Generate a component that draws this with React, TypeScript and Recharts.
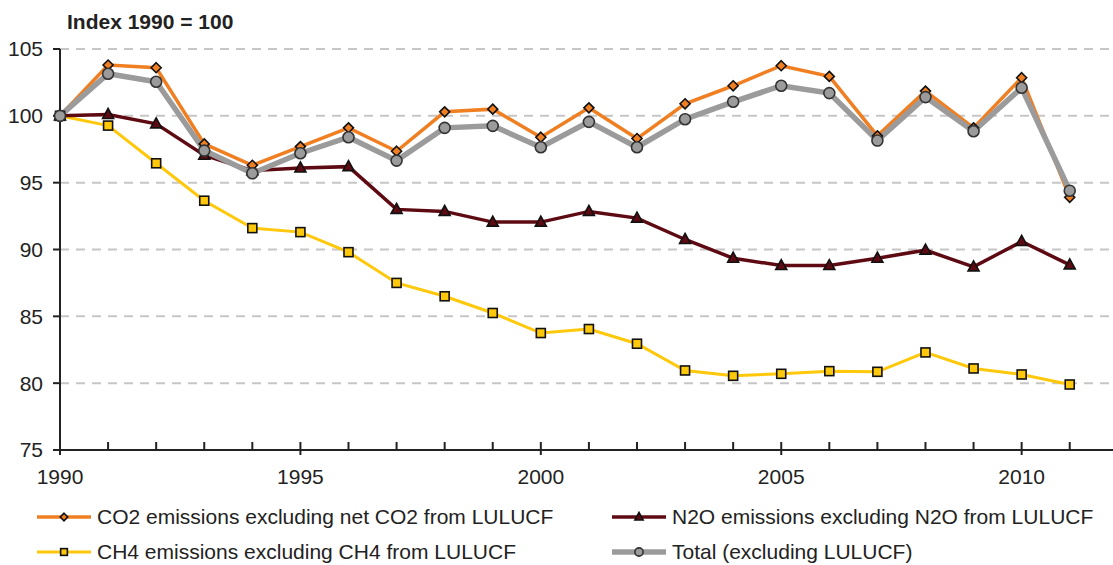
import React from 'react';
import { LineChart, Line, XAxis, YAxis, CartesianGrid } from 'recharts';

// Index 1990 = 100
const years = [1990, 1991, 1992, 1993, 1994, 1995, 1996, 1997, 1998, 1999, 2000, 2001, 2002, 2003, 2004, 2005, 2006, 2007, 2008, 2009, 2010, 2011];
const co2 = [100, 103.8, 103.6, 97.9, 96.3, 97.7, 99.1, 97.35, 100.3, 100.5, 98.4, 100.6, 98.3, 100.9, 102.25, 103.75, 102.95, 98.5, 101.85, 99.1, 102.85, 93.9];
const n2o = [100, 100.1, 99.4, 97.05, 95.9, 96.1, 96.2, 93.0, 92.85, 92.05, 92.05, 92.85, 92.35, 90.75, 89.35, 88.8, 88.8, 89.35, 89.95, 88.7, 90.6, 88.85];
const ch4 = [100, 99.27, 96.45, 93.65, 91.6, 91.3, 89.8, 87.5, 86.5, 85.25, 83.75, 84.05, 82.95, 80.95, 80.55, 80.7, 80.9, 80.85, 82.3, 81.1, 80.65, 79.9];
const total = [100, 103.15, 102.55, 97.4, 95.7, 97.2, 98.4, 96.65, 99.1, 99.25, 97.65, 99.55, 97.65, 99.75, 101.05, 102.25, 101.7, 98.15, 101.4, 98.85, 102.1, 94.4];
const yTicks = [75, 80, 85, 90, 95, 100, 105];

const seriesNames = {
  co2: 'CO2 emissions excluding net CO2 from LULUCF',
  n2o: 'N2O emissions excluding N2O from LULUCF',
  ch4: 'CH4 emissions excluding CH4 from LULUCF',
  total: 'Total (excluding LULUCF)',
};

const data = years.map((year, i) => ({ year, co2: co2[i], n2o: n2o[i], ch4: ch4[i], total: total[i] }));

const ORANGE = '#f07f22';
const MAROON = '#5e0a12';
const YELLOW = '#ffc80a';
const GREY = '#9b9b9b';
const INK = '#222';
const FONT = '"Liberation Sans", Arial, sans-serif';

type MarkProps = { cx?: number; cy?: number; s?: number };

const Diamond = ({ cx = 0, cy = 0, s = 1 }: MarkProps) => (
  <polygon points={`${cx},${cy - 5 * s} ${cx + 5 * s},${cy} ${cx},${cy + 5 * s} ${cx - 5 * s},${cy}`} fill={ORANGE} stroke="#111" strokeWidth={1.6} />
);
const Triangle = ({ cx = 0, cy = 0, s = 1 }: MarkProps) => (
  <polygon points={`${cx},${cy - 6 * s} ${cx + 5.5 * s},${cy + 4 * s} ${cx - 5.5 * s},${cy + 4 * s}`} fill={MAROON} stroke="#111" strokeWidth={1.6} />
);
const Square = ({ cx = 0, cy = 0, s = 1 }: MarkProps) => (
  <rect x={cx - 4.5 * s} y={cy - 4.5 * s} width={9 * s} height={9 * s} fill={YELLOW} stroke="#111" strokeWidth={1.6} />
);
const Circle = ({ cx = 0, cy = 0, s = 1 }: MarkProps) => (
  <circle cx={cx} cy={cy} r={5.5 * s} fill={GREY} stroke="#333" strokeWidth={1.6} />
);

const XTick = (props: any) => {
  const { x, y, payload } = props;
  const major = payload.value % 5 === 0;
  return (
    <g>
      <line x1={x} x2={x} y1={y - 8} y2={major ? y + 5 : y} stroke={INK} strokeWidth={2} />
      {major && (
        <text x={x} y={y + 34} textAnchor="middle" fontSize={21} fill={INK} fontFamily={FONT}>
          {payload.value}
        </text>
      )}
    </g>
  );
};

const LegendItem = ({ color, width, Mark, label }: { color: string; width: number; Mark: React.FC<MarkProps>; label: string }) => (
  <div style={{ display: 'flex', alignItems: 'center', height: 35 }}>
    <svg width={56} height={20} style={{ marginRight: 5 }}>
      <line x1={1} x2={55} y1={10} y2={10} stroke={color} strokeWidth={width} />
      <Mark cx={28} cy={10} s={0.75} />
    </svg>
    <span>{label}</span>
  </div>
);

export default function App() {
  return (
    <div style={{ position: 'absolute', left: 0, top: 0, width: 1113, height: 565, background: '#fff', fontFamily: FONT }}>
      <div style={{ position: 'absolute', left: 67, top: 10, fontSize: 21, fontWeight: 'bold', color: INK }}>Index 1990 = 100</div>
      <LineChart width={1113} height={565} data={data} margin={{ top: 49, right: 0, left: 0, bottom: 85 }}>
        <CartesianGrid vertical={false} stroke="#c6c6c6" strokeWidth={2} strokeDasharray="9 7" />
        <XAxis
          dataKey="year"
          type="number"
          domain={[1990, 2011.9]}
          ticks={years}
          interval={0}
          tickSize={0}
          tickMargin={0}
          tickLine={false}
          tick={<XTick />}
          axisLine={{ stroke: INK, strokeWidth: 2 }}
          height={30}
        />
        <YAxis
          domain={[75, 105]}
          ticks={yTicks}
          interval={0}
          width={60}
          tickSize={7}
          tickMargin={10}
          tickLine={{ stroke: INK, strokeWidth: 2 }}
          axisLine={{ stroke: INK, strokeWidth: 2 }}
          tick={{ fontSize: 21, fill: INK, fontFamily: FONT }}
        />
        <Line type="linear" dataKey="ch4" name={seriesNames.ch4} stroke={YELLOW} strokeWidth={3} isAnimationActive={false}
          dot={(p: any) => <Square key={`s-${p.index}`} cx={p.cx} cy={p.cy} />} />
        <Line type="linear" dataKey="n2o" name={seriesNames.n2o} stroke={MAROON} strokeWidth={3.5} isAnimationActive={false}
          dot={(p: any) => <Triangle key={`t-${p.index}`} cx={p.cx} cy={p.cy} />} />
        <Line type="linear" dataKey="co2" name={seriesNames.co2} stroke={ORANGE} strokeWidth={3.5} isAnimationActive={false}
          dot={(p: any) => <Diamond key={`d-${p.index}`} cx={p.cx} cy={p.cy} />} />
        <Line type="linear" dataKey="total" name={seriesNames.total} stroke={GREY} strokeWidth={5.5} isAnimationActive={false}
          dot={(p: any) => <Circle key={`c-${p.index}`} cx={p.cx} cy={p.cy} />} />
      </LineChart>
      <div style={{ position: 'absolute', left: 36, top: 499, fontSize: 21, color: INK, display: 'grid', gridTemplateColumns: '575px auto' }}>
        <LegendItem color={ORANGE} width={3.5} Mark={Diamond} label={seriesNames.co2} />
        <LegendItem color={MAROON} width={3.5} Mark={Triangle} label={seriesNames.n2o} />
        <LegendItem color={YELLOW} width={3} Mark={Square} label={seriesNames.ch4} />
        <LegendItem color={GREY} width={5.5} Mark={Circle} label={seriesNames.total} />
      </div>
    </div>
  );
}
